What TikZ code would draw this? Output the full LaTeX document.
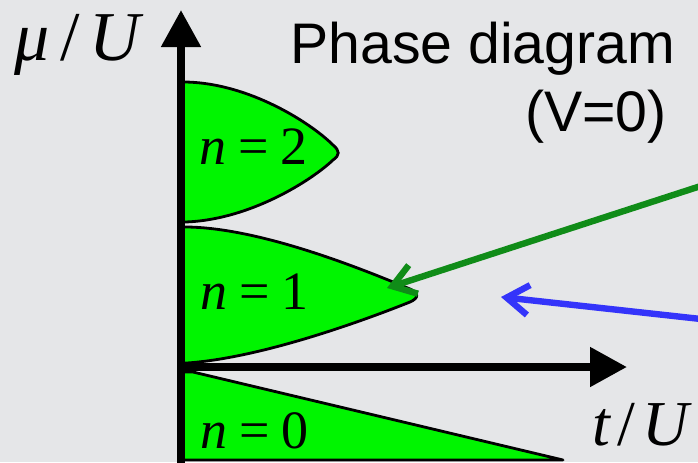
\documentclass[tikz,border=0pt]{standalone}
\usepackage{fontspec}
\setmainfont{Liberation Serif}
\newfontfamily\titlefont{Liberation Sans}
\usetikzlibrary{arrows.meta}
\definecolor{bg}{RGB}{229,230,232}
\definecolor{phasegreen}{RGB}{0,245,0}
\definecolor{arrowgreen}{RGB}{16,140,24}
\definecolor{arrowblue}{RGB}{52,52,250}
\tikzset{
  lobe/.style={fill=phasegreen, draw=black, line width=1.4pt, line join=round},
  axisline/.style={line width=4pt, -{Triangle[length=18.5pt,width=19pt]}},
  pointer/.style={line width=3.2pt, -{Straight Barb[length=11pt,width=15pt]}},
  lbl/.style={inner sep=0pt, anchor=base west, font=\fontsize{27}{30}\selectfont},
  axlbl/.style={inner sep=0pt, anchor=base west},
  ttl/.style={inner sep=0pt, font=\titlefont\fontsize{28.6}{32}\selectfont}
}
\begin{document}
\begin{tikzpicture}[x=0.5pt,y=-0.5pt]
\useasboundingbox (0,0) rectangle (698,462);
\fill[bg] (0,0) rectangle (698,462);
% n=2 lobe
\path[lobe] (181,82) -- (185,82) .. controls (250,83) and (312,124) .. (333,145)
  .. controls (340,151) and (340,155) .. (333,160)
  .. controls (312,180) and (250,220) .. (185,222) -- (181,222) -- cycle;
% n=1 lobe
\path[lobe] (181,227) -- (187,227) .. controls (260,228) and (360,268) .. (410,289)
  .. controls (419,293) and (419,298) .. (410,302)
  .. controls (360,322) and (260,358) .. (187,363) -- (181,363) -- cycle;
% n=0 region
\path[lobe] (181,372) -- (193,372) -- (563,460) -- (181,460) -- cycle;
% axes
\coordinate (ybot) at (181,475);
\coordinate (ytop) at (181,10);
\coordinate (xleft) at (177,367);
\coordinate (xright) at (627,367);
\draw[axisline] (ybot) -- (ytop);
\draw[axisline] (xleft) -- (xright);
% pointers
\coordinate (gstart) at (710,183);
\coordinate (gtip) at (387,288);
\coordinate (bstart) at (710,320);
\coordinate (btip) at (501,297);
\draw[pointer, arrowgreen] (gstart) -- (gtip);
\draw[pointer, arrowblue] (bstart) -- (btip);
% labels
\node[axlbl, font=\fontsize{35}{40}\selectfont] (mulab) at (14,60) {\textit{μ}\hspace{0.15em}/\hspace{0.15em}\textit{U}};
\node[axlbl, font=\fontsize{32}{36}\selectfont] (tlab) at (592,445) {\textit{t}\hspace{0.1em}/\hspace{0.1em}\textit{U}};
\node[lbl] (n2) at (199,164) {\textit{n}\hspace{0.22em}=\hspace{0.22em}2};
\node[lbl] (n1) at (200,309) {\textit{n}\hspace{0.22em}=\hspace{0.22em}1};
\node[lbl] (n0) at (200,448) {\textit{n}\hspace{0.22em}=\hspace{0.22em}0};
\node[ttl, anchor=base west] (title) at (290,63) {Phase diagram};
\node[ttl, anchor=base east] (vzero) at (667,131) {(V=0)};
\end{tikzpicture}
\end{document}
